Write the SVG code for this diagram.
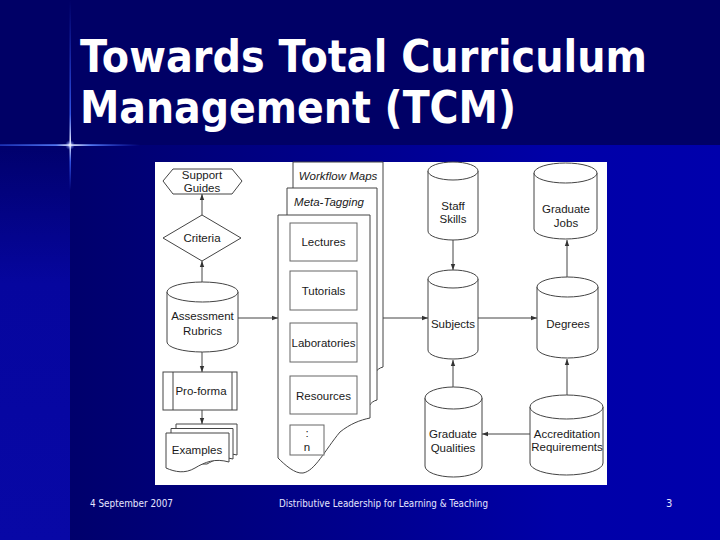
<svg xmlns="http://www.w3.org/2000/svg" width="720" height="540" viewBox="0 0 720 540">
<defs>
<linearGradient id="bgR" x1="70" y1="0" x2="720" y2="0" gradientUnits="userSpaceOnUse">
<stop offset="0" stop-color="#00006c"/>
<stop offset="0.5" stop-color="#000092"/>
<stop offset="0.75" stop-color="#0000a8"/>
<stop offset="1" stop-color="#0000ac"/>
</linearGradient>
<linearGradient id="bgL" x1="0" y1="145" x2="0" y2="540" gradientUnits="userSpaceOnUse">
<stop offset="0" stop-color="#00006c"/>
<stop offset="0.35" stop-color="#06069e"/>
<stop offset="1" stop-color="#0808a6"/>
</linearGradient>
<linearGradient id="vl" x1="0" y1="0" x2="0" y2="190" gradientUnits="userSpaceOnUse">
<stop offset="0" stop-color="#3355ff" stop-opacity="0"/>
<stop offset="0.6" stop-color="#3d66ff" stop-opacity="0.8"/>
<stop offset="0.76" stop-color="#ffffff"/>
<stop offset="0.85" stop-color="#3d66ff" stop-opacity="0.8"/>
<stop offset="1" stop-color="#3355ff" stop-opacity="0"/>
</linearGradient>
<linearGradient id="hl" x1="0" y1="0" x2="140" y2="0" gradientUnits="userSpaceOnUse">
<stop offset="0" stop-color="#2a4cdd" stop-opacity="0.7"/>
<stop offset="0.4" stop-color="#5a82ff"/>
<stop offset="0.5" stop-color="#ffffff"/>
<stop offset="0.65" stop-color="#5a82ff"/>
<stop offset="1" stop-color="#3355ff" stop-opacity="0"/>
</linearGradient>
<radialGradient id="glow">
<stop offset="0" stop-color="#ffffff"/>
<stop offset="1" stop-color="#6688ff" stop-opacity="0"/>
</radialGradient>
<marker id="ah" viewBox="0 0 6 6" refX="6" refY="3" markerWidth="6" markerHeight="6" markerUnits="userSpaceOnUse" orient="auto">
<path d="M0,0.8 L6,3 L0,5.2 Z" fill="#333"/>
</marker>
<style>
.sh{fill:#fff;stroke:#444;stroke-width:1}
.ib{fill:#fff;stroke:#666;stroke-width:1}
.t{font-family:"Liberation Sans",Arial,sans-serif;font-size:11.5px;fill:#1a1a1a;text-anchor:middle}
.it{font-style:italic}
.c{fill:none;stroke:#444;stroke-width:1;marker-end:url(#ah)}
.title{font-family:"DejaVu Sans",Verdana,sans-serif;font-weight:bold;font-size:44px;fill:#fff}
.ft{font-family:"DejaVu Sans",Tahoma,sans-serif;font-size:10px;fill:#e6e6ff}
</style>
</defs>

<rect width="720" height="540" fill="#000066"/>
<rect x="70" y="145" width="650" height="395" fill="url(#bgR)"/>
<rect x="0" y="145" width="70" height="395" fill="url(#bgL)"/>
<rect x="69.5" y="0" width="1.5" height="190" fill="url(#vl)"/>
<rect x="0" y="144.3" width="140" height="1.6" fill="url(#hl)"/>
<circle cx="70" cy="145" r="5" fill="url(#glow)"/>

<text class="title" x="80" y="72" textLength="567" lengthAdjust="spacingAndGlyphs">Towards Total Curriculum</text>
<text class="title" x="80" y="123" textLength="436" lengthAdjust="spacingAndGlyphs">Management (TCM)</text>

<rect x="155" y="162" width="452" height="323" fill="#fff"/>

<g id="connectors">
<path class="c" d="M202,282 V261"/>
<path class="c" d="M202,215 V194"/>
<path class="c" d="M238,318 H278"/>
<path class="c" d="M202,352 V372"/>
<path class="c" d="M202,410 V424"/>
<path class="c" d="M383,318 H428"/>
<path class="c" d="M478,318 H537"/>
<path class="c" d="M453,240 V270"/>
<path class="c" d="M453,387 V360"/>
<path class="c" d="M567,395 V359"/>
<path class="c" d="M567,277 V240"/>
<path class="c" d="M530,434 H482"/>
</g>

<g id="support-guides">
<polygon class="sh" points="163,181 173,169 232,169 242,181 232,194 173,194"/>
<text class="t" x="202" y="179">Support</text>
<text class="t" x="202" y="192">Guides</text>
</g>

<g id="criteria">
<polygon class="sh" points="163,238 202,215 241,238 202,261"/>
<text class="t" x="202" y="242">Criteria</text>
</g>

<g id="assessment-rubrics">
<path class="sh" d="M167,292 V342 A35.5,10 0 0 0 238,342 V292"/>
<ellipse class="sh" cx="202.5" cy="292" rx="35.5" ry="10"/>
<text class="t" x="202.5" y="320">Assessment</text>
<text class="t" x="202.5" y="335">Rubrics</text>
</g>

<g id="pro-forma">
<rect class="sh" x="163" y="372" width="74" height="38"/>
<line x1="173" y1="372" x2="173" y2="410" stroke="#444"/>
<line x1="232" y1="372" x2="232" y2="410" stroke="#444"/>
<text class="t" x="201" y="395">Pro-forma</text>
</g>

<g id="examples">
<path class="sh" d="M176,424 H237 V455 C226,452 218,456 212,460 L176,460 Z"/>
<path class="sh" d="M171,428.5 H233 V459 C222,456 214,460 207,464 L171,464 Z"/>
<path class="sh" d="M166,433 H229 V462 C215,458 205,462 195,468 C185,474 175,472 166,468 Z"/>
<text class="t" x="197" y="454">Examples</text>
</g>

<g id="workflow-maps">
<path class="sh" d="M293,162 H383 V367 C379,368 377,370 375,373 C360,380 340,395 320,400 L293,400 Z"/>
<text class="t it" x="338" y="180">Workflow Maps</text>
</g>

<g id="meta-tagging">
<path class="sh" d="M287,188 H377 V400 C373,401 371,403 369,406 C355,415 335,430 315,435 L287,435 Z"/>
<text class="t it" x="329" y="206">Meta-Tagging</text>
</g>

<g id="resources-doc">
<path class="sh" d="M278,215 H370 V418 C360,420 350,424 340,432 C325,450 315,471 303,473 C295,474 285,465 278,458 Z"/>
</g>

<g id="lectures">
<rect class="ib" x="290" y="223" width="67" height="38"/>
<text class="t" x="323.5" y="246">Lectures</text>
</g>
<g id="tutorials">
<rect class="ib" x="290" y="271" width="67" height="39"/>
<text class="t" x="323.5" y="295">Tutorials</text>
</g>
<g id="laboratories">
<rect class="ib" x="290" y="323" width="67" height="39"/>
<text class="t" x="323.5" y="347">Laboratories</text>
</g>
<g id="resources">
<rect class="ib" x="290" y="376" width="67" height="38"/>
<text class="t" x="323.5" y="400">Resources</text>
</g>
<g id="n-item">
<rect class="ib" x="290" y="425" width="34" height="30"/>
<text class="t" x="307" y="437">:</text>
<text class="t" x="307" y="451">n</text>
</g>

<g id="staff-skills">
<path class="sh" d="M428,171 V231 A25,9 0 0 0 478,231 V171"/>
<ellipse class="sh" cx="453" cy="171" rx="25" ry="9"/>
<text class="t" x="453" y="210">Staff</text>
<text class="t" x="453" y="223">Skills</text>
</g>

<g id="subjects">
<path class="sh" d="M428,279 V350 A25,9 0 0 0 478,350 V279"/>
<ellipse class="sh" cx="453" cy="279" rx="25" ry="9"/>
<text class="t" x="453" y="328">Subjects</text>
</g>

<g id="graduate-jobs">
<path class="sh" d="M534,173 V229 A31.5,10 0 0 0 597,229 V173"/>
<ellipse class="sh" cx="565.5" cy="173" rx="31.5" ry="10"/>
<text class="t" x="566" y="213">Graduate</text>
<text class="t" x="566" y="227">Jobs</text>
</g>

<g id="degrees">
<path class="sh" d="M537,287 V348 A30.5,10 0 0 0 598,348 V287"/>
<ellipse class="sh" cx="567.5" cy="287" rx="30.5" ry="10"/>
<text class="t" x="568" y="328">Degrees</text>
</g>

<g id="graduate-qualities">
<path class="sh" d="M425,398 V466 A28.5,11 0 0 0 482,466 V398"/>
<ellipse class="sh" cx="453.5" cy="398" rx="28.5" ry="11"/>
<text class="t" x="453" y="438">Graduate</text>
<text class="t" x="453" y="452">Qualities</text>
</g>

<g id="accreditation-requirements">
<path class="sh" d="M530,407 V463 A36.5,12 0 0 0 603,463 V407"/>
<ellipse class="sh" cx="566.5" cy="407" rx="36.5" ry="12"/>
<text class="t" x="567" y="438">Accreditation</text>
<text class="t" x="567" y="451">Requirements</text>
</g>

<g id="footer">
<text class="ft" x="90" y="507" textLength="83" lengthAdjust="spacingAndGlyphs">4 September 2007</text>
<text class="ft" x="279" y="507" textLength="209" lengthAdjust="spacingAndGlyphs">Distributive Leadership for Learning &amp; Teaching</text>
<text class="ft" x="666" y="507">3</text>
</g>
</svg>
